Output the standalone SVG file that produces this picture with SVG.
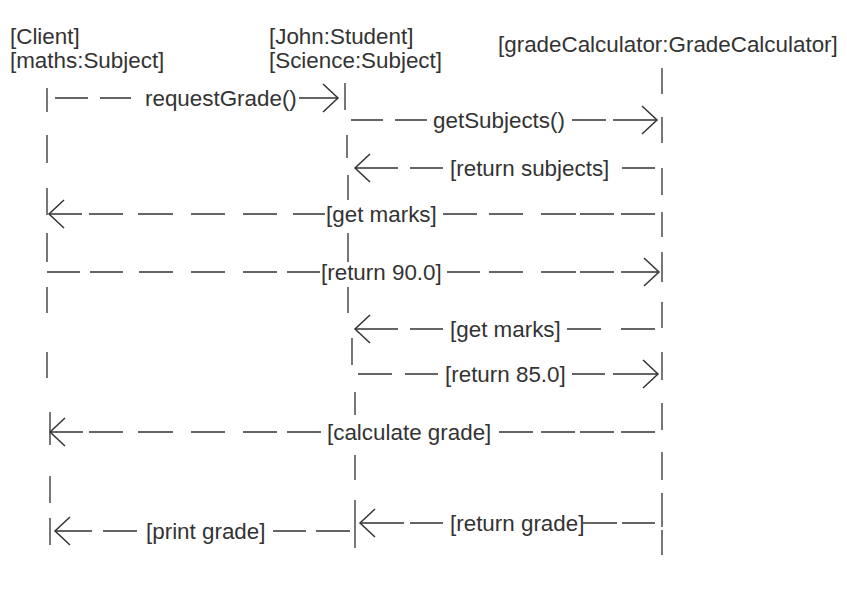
<svg xmlns="http://www.w3.org/2000/svg" width="847" height="593" viewBox="0 0 847 593">
<style>
text{font-family:"Liberation Sans",Arial,sans-serif;font-size:22.4px;fill:#333}
.life{stroke:#555;stroke-width:1.6;fill:none}
.msg{stroke:#333;stroke-width:1.5;fill:none}
</style>
<defs>
<marker id="open" markerUnits="userSpaceOnUse" viewBox="0 0 18 30" refX="16" refY="15" markerWidth="18" markerHeight="30" orient="auto" overflow="visible">
<path d="M1,1 L16,15 L1,29" fill="none" stroke="#333" stroke-width="1.5"/>
</marker>
</defs>
<rect width="847" height="593" fill="#fff"/>
<g id="client">
<text x="10" y="44">[Client]</text>
<text x="10" y="68">[maths:Subject]</text>
<path class="life" d="M47,88V112M47,135V163M47,188V215M47,233V262M47,287V313M47,352V378M50,412V445M50,476V503M50,518V545"/>
</g>
<g id="student">
<text x="269" y="44">[John:Student]</text>
<text x="269" y="68">[Science:Subject]</text>
<path class="life" d="M345,83V110M347,135V158M348,175V200M348,233V262M348,287V313M352,338V365M355,392V415M355,455V480M355,500V548"/>
</g>
<g id="calculator">
<text x="498" y="52">[gradeCalculator:GradeCalculator]</text>
<path class="life" d="M662,68V94M662,117V143M662,168V195M662,212V237M662,252V282M662,302V328M662,352V380M662,403V430M662,452V480M662,493V527M662,530V555"/>
</g>
<g id="connectors">
<path class="msg" marker-end="url(#open)" d="M55,98H88M100,98H131M299,98H338"/>
<text x="145" y="106">requestGrade()</text>
<path class="msg" marker-end="url(#open)" d="M351,120H383M395,120H427M572,120H606M613,120H657"/>
<text x="433" y="128">getSubjects()</text>
<path class="msg" marker-end="url(#open)" d="M655,168H622M443,168H410M398,168H355"/>
<text x="450" y="176">[return subjects]</text>
<path class="msg" marker-end="url(#open)" d="M655,214H621M614,214H580M576,214H541M523,214H489M477,214H443M325,214H293M277,214H243M225,214H191M173,214H138M123,214H89M82,214H49"/>
<text x="326" y="222">[get marks]</text>
<path class="msg" marker-end="url(#open)" d="M47,272H80M90,272H123M139,272H173M191,272H225M243,272H277M287,272H320M447,272H480M489,272H523M541,272H576M580,272H614M621,272H659"/>
<text x="321" y="280">[return 90.0]</text>
<path class="msg" marker-end="url(#open)" d="M655,329H621M601,329H567M443,329H410M398,329H355"/>
<text x="450" y="337">[get marks]</text>
<path class="msg" marker-end="url(#open)" d="M358,374H392M405,374H438M572,374H605M613,374H658"/>
<text x="445" y="382">[return 85.0]</text>
<path class="msg" marker-end="url(#open)" d="M655,432H621M614,432H580M575,432H541M533,432H499M321,432H287M277,432H243M225,432H191M173,432H138M123,432H89M83,432H50"/>
<text x="327" y="440">[calculate grade]</text>
<path class="msg" marker-end="url(#open)" d="M655,523H622M617,523H583M443,523H410M404,523H360"/>
<text x="450" y="531">[return grade]</text>
<path class="msg" marker-end="url(#open)" d="M350,531H316M306,531H273M137,531H103M92,531H55"/>
<text x="146" y="539">[print grade]</text>
</g>
</svg>
